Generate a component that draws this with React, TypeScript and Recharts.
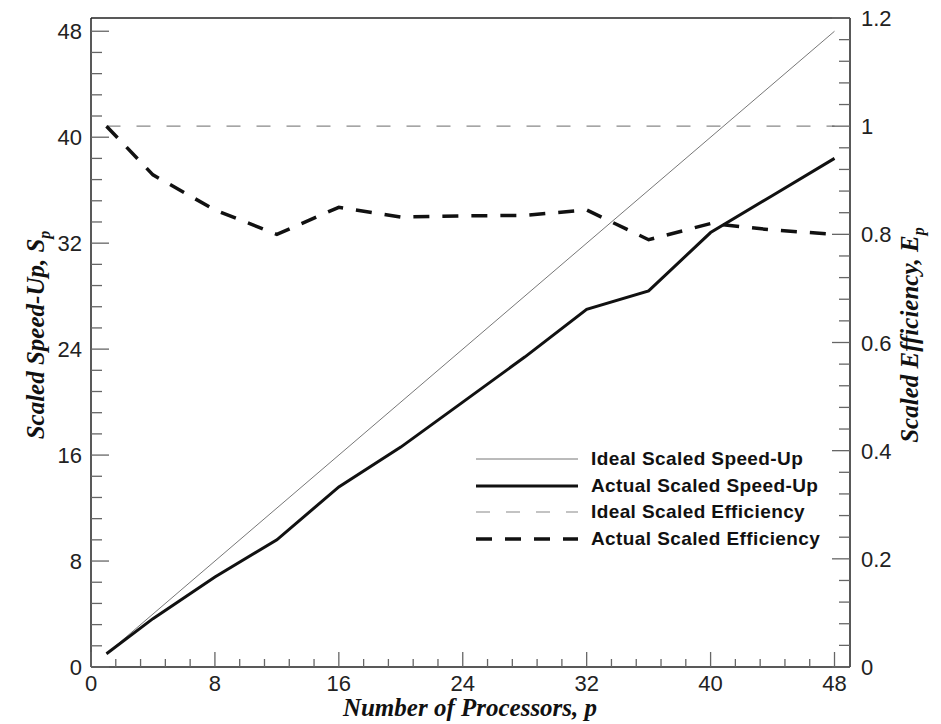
import React from 'react';
import {
  LineChart,
  Line,
  XAxis,
  YAxis,
  Label,
  ReferenceLine,
} from 'recharts';

// number of processors and measured values
const processors = [1, 4, 8, 12, 16, 20, 24, 28, 32, 36, 40, 44, 48];
const actualSpeedUp = [1, 3.65, 6.8, 9.6, 13.6, 16.6, 20.0, 23.4, 27.0, 28.4, 32.8, 35.6, 38.4];
const actualEfficiency = [1.0, 0.91, 0.845, 0.8, 0.85, 0.832, 0.834, 0.835, 0.845, 0.79, 0.82, 0.808, 0.8];

const idealSpeedUp = [
  { p: 1, v: 1 },
  { p: 48, v: 48 },
];
const idealEfficiency = [
  { p: 1, v: 1 },
  { p: 48, v: 1 },
];

const majorX = [0, 8, 16, 24, 32, 40, 48];
const majorLeft = [0, 8, 16, 24, 32, 40, 48];
const majorRight = [0, 0.2, 0.4, 0.6, 0.8, 1, 1.2];

const legendItems = [
  { name: 'Ideal Scaled Speed-Up', color: '#777', width: 1, dash: undefined },
  { name: 'Actual Scaled Speed-Up', color: '#111', width: 3, dash: undefined },
  { name: 'Ideal Scaled Efficiency', color: '#888', width: 1.2, dash: '14 16' },
  { name: 'Actual Scaled Efficiency', color: '#111', width: 3.5, dash: '16 13' },
];

const data = processors.map((p, i) => ({
  p,
  s: actualSpeedUp[i],
  e: actualEfficiency[i],
}));

// five minor steps between each pair of major ticks
const withMinors = (majors: number[]) => {
  const out: number[] = [];
  for (let i = 0; i < majors.length - 1; i++) {
    const step = (majors[i + 1] - majors[i]) / 5;
    for (let k = 0; k < 5; k++) out.push(Math.round((majors[i] + k * step) * 1000) / 1000);
  }
  out.push(majors[majors.length - 1]);
  return out;
};

const isMajor = (v: number, majors: number[]) => majors.some((m) => Math.abs(m - v) < 1e-6);

const tickFont = { fontFamily: 'Liberation Sans, Arial, sans-serif', fontSize: 22, fill: '#222' };
const titleFont = {
  fontFamily: 'Liberation Serif, Times New Roman, serif',
  fontSize: 25,
  fontWeight: 700,
  fontStyle: 'italic' as const,
  fill: '#111',
};

const BottomTick = (props: any) => {
  const { x, y, payload } = props;
  const major = isMajor(payload.value, majorX);
  return (
    <g>
      <line x1={x} y1={y} x2={x} y2={y - (major ? 15 : 8)} stroke="#666" strokeWidth={1.3} />
      {major && (
        <text x={x} y={y + 24} textAnchor="middle" {...tickFont}>
          {payload.value}
        </text>
      )}
    </g>
  );
};

const LeftTick = (props: any) => {
  const { x, y, payload } = props;
  const major = isMajor(payload.value, majorLeft);
  return (
    <g>
      <line x1={x} y1={y} x2={x + (major ? 18 : 11)} y2={y} stroke="#666" strokeWidth={1.3} />
      {major && (
        <text x={x - 9} y={y + 8} textAnchor="end" {...tickFont}>
          {payload.value}
        </text>
      )}
    </g>
  );
};

const RightTick = (props: any) => {
  const { x, y, payload } = props;
  const major = isMajor(payload.value, majorRight);
  return (
    <g>
      <line x1={x} y1={y} x2={x - (major ? 18 : 11)} y2={y} stroke="#666" strokeWidth={1.3} />
      {major && (
        <text x={x + 11} y={y + 8} textAnchor="start" {...tickFont}>
          {payload.value}
        </text>
      )}
    </g>
  );
};

const LeftTitle = () => (
  <text transform="translate(44, 335) rotate(-90)" textAnchor="middle" {...titleFont}>
    Scaled Speed-Up, S
    <tspan fontSize={16} dy={6}>p</tspan>
  </text>
);

const RightTitle = () => (
  <text transform="translate(918, 335) rotate(-90)" textAnchor="middle" {...titleFont}>
    Scaled Efficiency, E
    <tspan fontSize={16} dy={6}>p</tspan>
  </text>
);

const BottomTitle = () => (
  <text x={470} y={716} textAnchor="middle" {...titleFont}>
    Number of Processors, p
  </text>
);

const LegendBox = () => (
  <div style={{ position: 'absolute', left: 476, top: 446, display: 'flex', flexDirection: 'column' }}>
    {legendItems.map((item) => (
      <div key={item.name} style={{ display: 'flex', alignItems: 'center', height: 26.5 }}>
        <svg width={104} height={10} style={{ marginRight: 11 }}>
          <line
            x1={0}
            y1={5}
            x2={102}
            y2={5}
            stroke={item.color}
            strokeWidth={item.width}
            strokeDasharray={item.dash}
          />
        </svg>
        <span
          style={{
            fontFamily: 'Liberation Sans, Arial, sans-serif',
            fontWeight: 700,
            fontSize: 19,
            letterSpacing: 0.4,
            color: '#111',
            whiteSpace: 'nowrap',
          }}
        >
          {item.name}
        </span>
      </div>
    ))}
  </div>
);

const App: React.FC = () => {
  return (
    <div style={{ position: 'absolute', left: 0, top: 0, width: 941, height: 724, background: '#fff' }}>
      <LineChart
        width={941}
        height={724}
        data={data}
        margin={{ top: 18, right: 31, left: 31, bottom: 17 }}
      >
        <XAxis
          dataKey="p"
          type="number"
          domain={[0, 49]}
          ticks={withMinors(majorX)}
          interval={0}
          tick={<BottomTick />}
          tickLine={false}
          tickSize={0}
          tickMargin={0}
          axisLine={{ stroke: '#222', strokeWidth: 1.5 }}
          height={40}
          allowDataOverflow
        >
          <Label content={<BottomTitle />} />
        </XAxis>
        <YAxis
          yAxisId="left"
          type="number"
          domain={[0, 49]}
          ticks={withMinors(majorLeft)}
          interval={0}
          tick={<LeftTick />}
          tickLine={false}
          tickSize={0}
          tickMargin={0}
          axisLine={{ stroke: '#222', strokeWidth: 1.5 }}
          width={60}
          allowDataOverflow
        >
          <Label content={<LeftTitle />} />
        </YAxis>
        <YAxis
          yAxisId="right"
          orientation="right"
          type="number"
          domain={[0, 1.2]}
          ticks={withMinors(majorRight)}
          interval={0}
          tick={<RightTick />}
          tickLine={false}
          tickSize={0}
          tickMargin={0}
          axisLine={{ stroke: '#222', strokeWidth: 1.5 }}
          width={60}
          allowDataOverflow
        >
          <Label content={<RightTitle />} />
        </YAxis>
        <ReferenceLine yAxisId="left" y={49} stroke="#222" strokeWidth={1.5} ifOverflow="extendDomain" />
        <Line
          yAxisId="left"
          data={idealSpeedUp}
          dataKey="v"
          type="linear"
          stroke="#777"
          strokeWidth={1}
          dot={false}
          isAnimationActive={false}
        />
        <Line
          yAxisId="right"
          data={idealEfficiency}
          dataKey="v"
          type="linear"
          stroke="#888"
          strokeWidth={1.2}
          strokeDasharray="14 16"
          dot={false}
          isAnimationActive={false}
        />
        <Line
          yAxisId="left"
          dataKey="s"
          type="linear"
          stroke="#111"
          strokeWidth={3}
          dot={false}
          isAnimationActive={false}
        />
        <Line
          yAxisId="right"
          dataKey="e"
          type="linear"
          stroke="#111"
          strokeWidth={3.5}
          strokeDasharray="16 13"
          dot={false}
          isAnimationActive={false}
        />
      </LineChart>
      <LegendBox />
    </div>
  );
};

export default App;
